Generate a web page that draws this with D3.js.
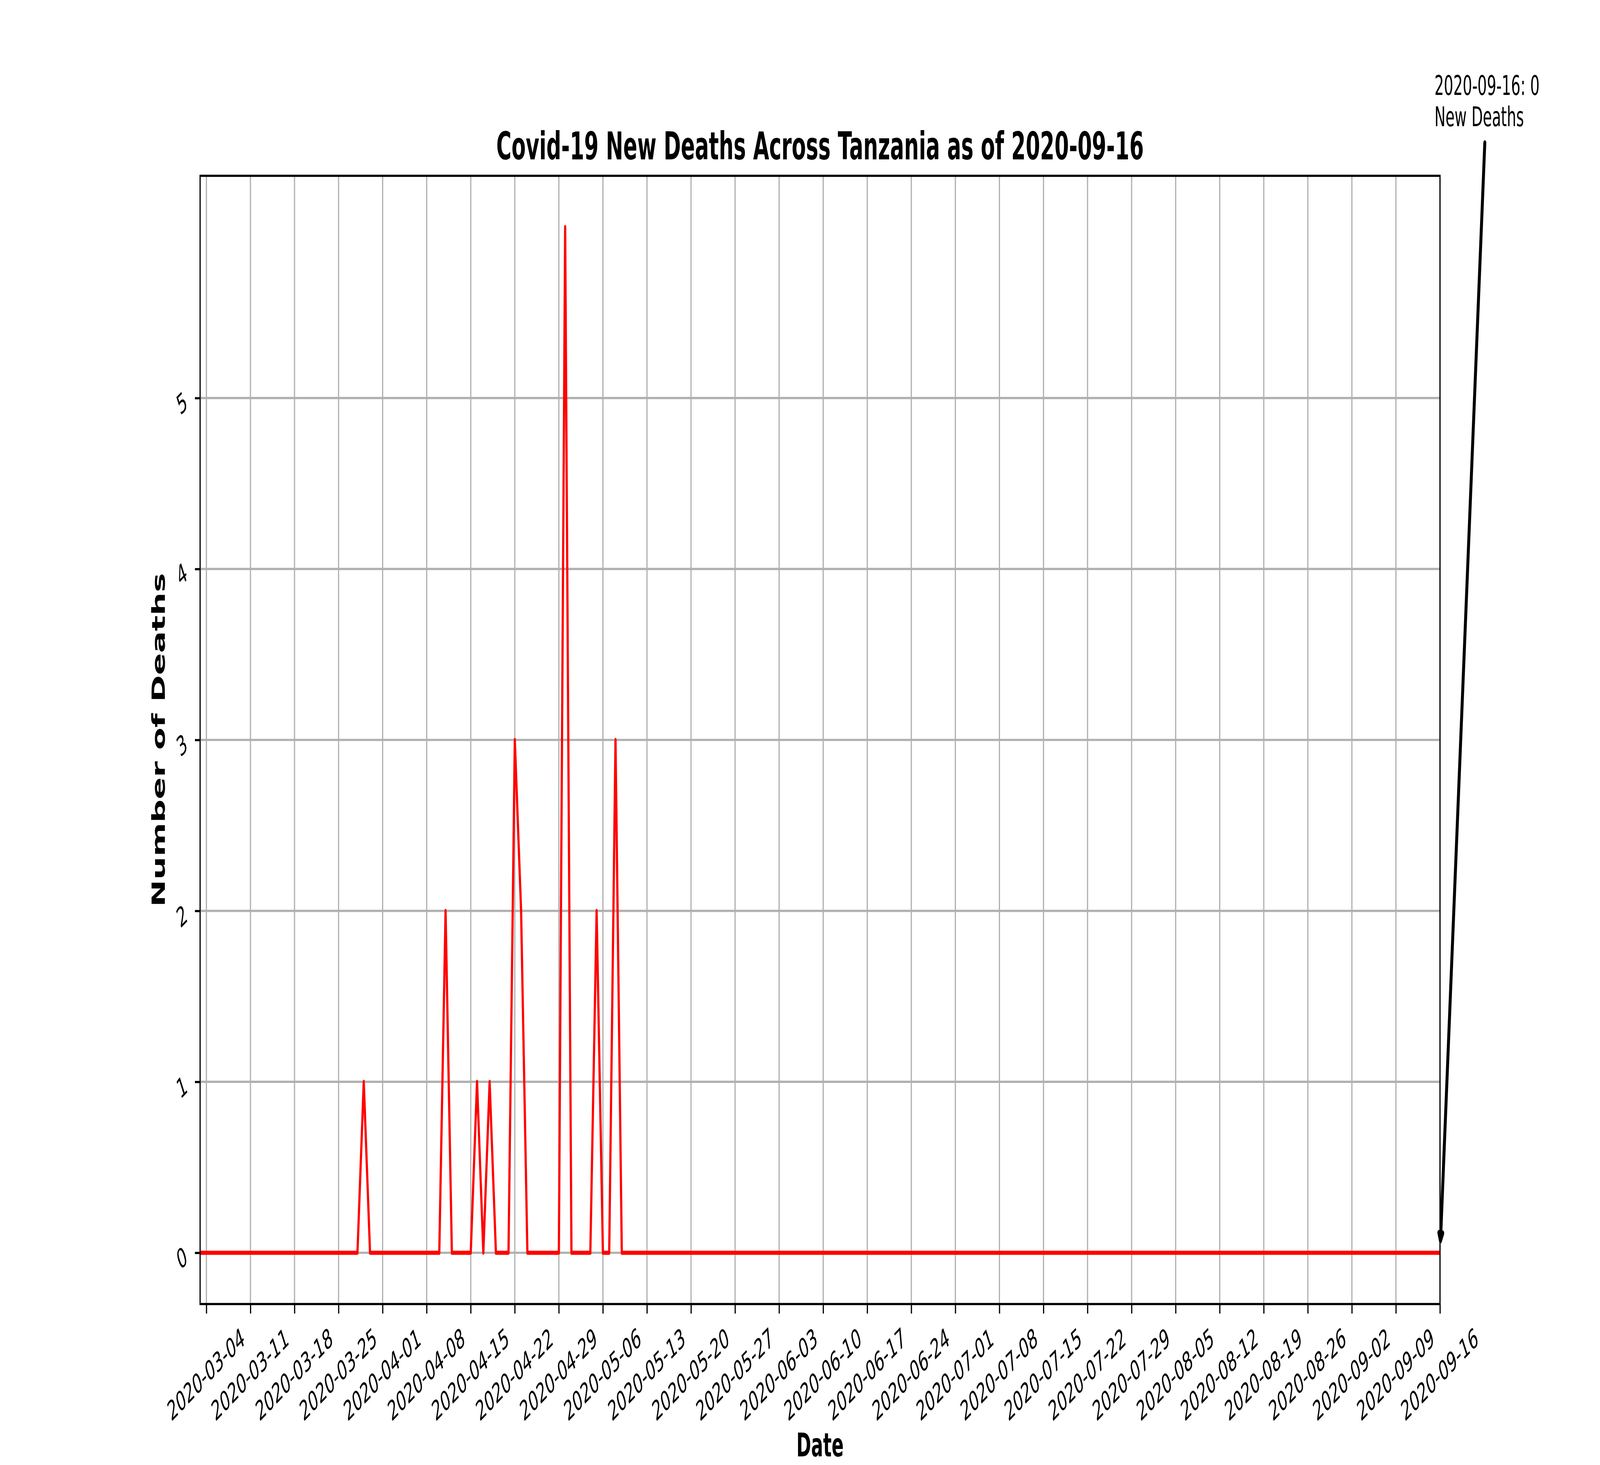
<!DOCTYPE html>
<html>
<head>
<meta charset="utf-8">
<script src="https://cdn.jsdelivr.net/npm/d3@7"></script>
<style>
  html, body { margin: 0; padding: 0; background: #fff; width: 100vw; height: 100vh; overflow: hidden; }
  svg { display: block; width: 100vw; height: 100vh; font-family: "DejaVu Sans", sans-serif; }
</style>
</head>
<body>
<svg id="chart" viewBox="0 0 7500 3750" preserveAspectRatio="none"></svg>
<script>

const startDate = '2020-03-03';
const endDate = '2020-09-16';

// daily new deaths, one array per month (March starts on the 3rd, September ends on the 16th)
const marchDeaths = [
  0, 0, 0, 0, 0, 0, 0, 0, 0, 0,
  0, 0, 0, 0, 0, 0, 0, 0, 0, 0,
  0, 0, 0, 0, 0, 0, 1, 0, 0
];
const aprilDeaths = [
  0, 0, 0, 0, 0, 0, 0, 0, 0, 0,
  2, 0, 0, 0, 0, 1, 0, 1, 0, 0,
  0, 3, 2, 0, 0, 0, 0, 0, 0, 6
];
const mayDeaths = [
  0, 0, 0, 0, 2, 0, 0, 3, 0, 0,
  0, 0, 0, 0, 0, 0, 0, 0, 0, 0,
  0, 0, 0, 0, 0, 0, 0, 0, 0, 0, 0
];
const juneDeaths = [
  0, 0, 0, 0, 0, 0, 0, 0, 0, 0,
  0, 0, 0, 0, 0, 0, 0, 0, 0, 0,
  0, 0, 0, 0, 0, 0, 0, 0, 0, 0
];
const julyDeaths = [
  0, 0, 0, 0, 0, 0, 0, 0, 0, 0,
  0, 0, 0, 0, 0, 0, 0, 0, 0, 0,
  0, 0, 0, 0, 0, 0, 0, 0, 0, 0, 0
];
const augustDeaths = [
  0, 0, 0, 0, 0, 0, 0, 0, 0, 0,
  0, 0, 0, 0, 0, 0, 0, 0, 0, 0,
  0, 0, 0, 0, 0, 0, 0, 0, 0, 0, 0
];
const septemberDeaths = [
  0, 0, 0, 0, 0, 0, 0, 0, 0, 0,
  0, 0, 0, 0, 0, 0
];

const tickDates = [
  '2020-03-04', '2020-03-11', '2020-03-18', '2020-03-25', '2020-04-01',
  '2020-04-08', '2020-04-15', '2020-04-22', '2020-04-29', '2020-05-06',
  '2020-05-13', '2020-05-20', '2020-05-27', '2020-06-03', '2020-06-10',
  '2020-06-17', '2020-06-24', '2020-07-01', '2020-07-08', '2020-07-15',
  '2020-07-22', '2020-07-29', '2020-08-05', '2020-08-12', '2020-08-19',
  '2020-08-26', '2020-09-02', '2020-09-09', '2020-09-16'
];
const yTicks = [0, 1, 2, 3, 4, 5];
const yDomain = [-0.3, 6.3];

const titleText = 'Covid-19 New Deaths Across Tanzania as of 2020-09-16';
const xLabelText = 'Date';
const yLabelText = 'Number of Deaths';
const noteLines = ['2020-09-16: 0', 'New Deaths'];

const parse = d3.timeParse('%Y-%m-%d');
const fmt = d3.timeFormat('%Y-%m-%d');

const deaths = [].concat(marchDeaths, aprilDeaths, mayDeaths, juneDeaths,
  julyDeaths, augustDeaths, septemberDeaths);
const series = deaths.map((v, i) => [d3.timeDay.offset(parse(startDate), i), v]);

const plot = { left: 938, right: 6750, top: 450, bottom: 3338 };
const tickLen = 24.3;
const tickFont = 69.4;
const labelFont = 83.3;
const titleFont = 97.2;

const x = d3.scaleTime().domain([parse(startDate), parse(endDate)]).range([plot.left, plot.right]);
const y = d3.scaleLinear().domain(yDomain).range([plot.bottom, plot.top]);

const svg = d3.select('#chart');
svg.append('rect').attr('width', 7500).attr('height', 3750).attr('fill', '#fff');

// grid
const grid = svg.append('g');
grid.selectAll('line.vx').data(tickDates.map(parse)).join('line')
  .attr('x1', d => x(d)).attr('x2', d => x(d))
  .attr('y1', plot.top).attr('y2', plot.bottom)
  .attr('stroke', '#b0b0b0').attr('stroke-width', 5.6);
grid.selectAll('line.hy').data(yTicks).join('line')
  .attr('x1', plot.left).attr('x2', plot.right)
  .attr('y1', d => y(d)).attr('y2', d => y(d))
  .attr('stroke', '#b0b0b0').attr('stroke-width', 5.6);

// the line
const line = d3.line().x(d => x(d[0])).y(d => y(d[1]));
svg.append('path')
  .datum(series)
  .attr('d', line)
  .attr('fill', 'none')
  .attr('stroke', '#ff0000')
  .attr('stroke-width', 10.4)
  .attr('stroke-linejoin', 'round');

// axes
const xAxis = d3.axisBottom(x)
  .tickValues(tickDates.map(parse))
  .tickFormat(fmt)
  .tickSize(tickLen)
  .tickSizeOuter(0);
const gx = svg.append('g').attr('transform', `translate(0,${plot.bottom})`).call(xAxis);

const yAxis = d3.axisLeft(y)
  .tickValues(yTicks)
  .tickFormat(d3.format('d'))
  .tickSize(tickLen)
  .tickSizeOuter(0);
const gy = svg.append('g').attr('transform', `translate(${plot.left},0)`).call(yAxis);

[gx, gy].forEach(g => {
  g.select('.domain').remove();
  g.selectAll('.tick line').attr('stroke', '#000').attr('stroke-width', 5.6);
  g.selectAll('.tick text')
    .attr('fill', '#000')
    .style('font-family', '"DejaVu Sans", sans-serif')
    .style('font-size', `${tickFont}px`)
    .attr('text-anchor', 'middle')
    .attr('x', 0)
    .attr('dy', null)
    .attr('y', tickFont * 0.365);
});

gx.selectAll('.tick text').attr('transform', 'translate(-3,179) rotate(-30)');
gy.selectAll('.tick text').attr('transform', 'translate(-86,12) rotate(-30)');

// frame
svg.append('rect')
  .attr('x', plot.left).attr('y', plot.top)
  .attr('width', plot.right - plot.left).attr('height', plot.bottom - plot.top)
  .attr('fill', 'none').attr('stroke', '#000').attr('stroke-width', 5.6);

// title and labels
svg.append('text')
  .attr('x', (plot.left + plot.right) / 2).attr('y', 408)
  .attr('text-anchor', 'middle')
  .style('font-size', `${titleFont}px`).style('font-weight', 'bold')
  .text(titleText);

svg.append('text')
  .attr('x', (plot.left + plot.right) / 2).attr('y', 3728)
  .attr('text-anchor', 'middle')
  .style('font-size', `${labelFont}px`).style('font-weight', 'bold')
  .text(xLabelText);

svg.append('text')
  .attr('transform', `translate(772,${(plot.top + plot.bottom) / 2}) rotate(-90)`)
  .attr('text-anchor', 'middle')
  .style('font-size', `${labelFont}px`).style('font-weight', 'bold')
  .text(yLabelText);

// annotation on the last point
const last = series[series.length - 1];
const px = x(last[0]), py = y(last[1]);

svg.append('text')
  .attr('x', px - 26)
  .style('font-size', `${tickFont}px`)
  .selectAll('tspan').data(noteLines).join('tspan')
  .attr('x', px - 26)
  .attr('y', (d, i) => 243 + i * 80)
  .text(d => d);

const start = [px + 210, 366];
const dx = px - start[0], dy = py - start[1];
const len = Math.hypot(dx, dy);
const ux = dx / len, uy = dy / len;
const tip = [px - 31 * ux, py - 31 * uy];
const base = [tip[0] - 20 * ux, tip[1] - 20 * uy];
const nx = -uy, ny = ux;

svg.append('line')
  .attr('x1', start[0]).attr('y1', start[1])
  .attr('x2', base[0]).attr('y2', base[1])
  .attr('stroke', '#000').attr('stroke-width', 13.9).attr('stroke-linecap', 'round');

svg.append('path')
  .attr('d', `M${tip[0]},${tip[1]}L${base[0] + 9 * nx},${base[1] + 9 * ny}L${base[0] - 9 * nx},${base[1] - 9 * ny}Z`)
  .attr('fill', '#000').attr('stroke', '#000')
  .attr('stroke-width', 13.9).attr('stroke-linejoin', 'round');

</script>
</body>
</html>
